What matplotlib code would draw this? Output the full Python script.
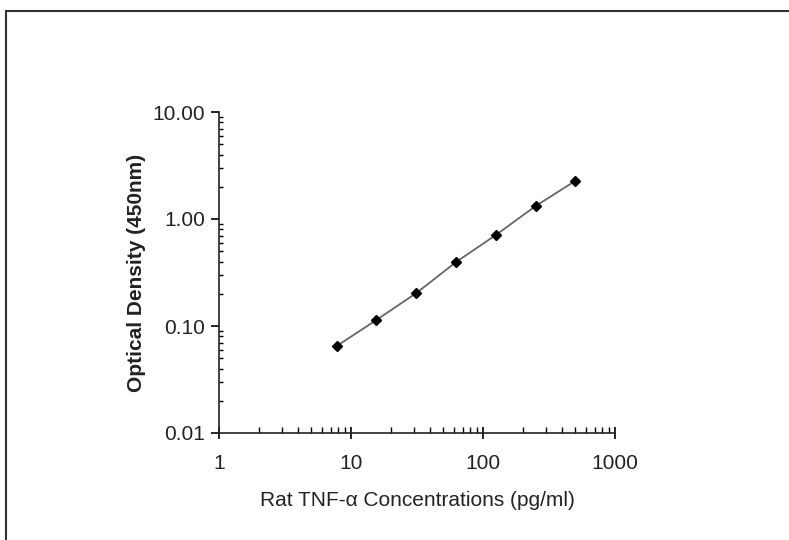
import numpy as np
import matplotlib
matplotlib.use('Agg')
import matplotlib.pyplot as plt
from matplotlib.patches import Rectangle
from matplotlib.ticker import FixedLocator, FixedFormatter, LogLocator, NullFormatter

plt.rcParams['font.family'] = ['Liberation Sans', 'DejaVu Sans']

# standard curve data
conc = [7.8, 15.6, 31.25, 62.5, 125, 250, 500]
od = [0.065, 0.114, 0.203, 0.396, 0.708, 1.32, 2.27]

x_ticks = [1, 10, 100, 1000]
x_labels = ['1', '10', '100', '1000']
y_ticks = [0.01, 0.1, 1, 10]
y_labels = ['0.01', '0.10', '1.00', '10.00']

fig = plt.figure(figsize=(7.89, 5.40), dpi=100)
ax = fig.add_axes([219/789, 1 - 433/540, (615 - 219)/789, (433 - 112)/540])

ax.plot(conc, od, color='#666666', lw=1.3, marker='D', markersize=5,
        markerfacecolor='black', markeredgecolor='black')

ax.set_xscale('log')
ax.set_yscale('log')
ax.set_xlim(1, 1000)
ax.set_ylim(0.01, 10)

ax.xaxis.set_major_locator(FixedLocator(x_ticks))
ax.xaxis.set_major_formatter(FixedFormatter(x_labels))
ax.yaxis.set_major_locator(FixedLocator(y_ticks))
ax.yaxis.set_major_formatter(FixedFormatter(y_labels))
ax.xaxis.set_minor_locator(LogLocator(base=10, subs=np.arange(2, 10)))
ax.yaxis.set_minor_locator(LogLocator(base=10, subs=np.arange(2, 10)))
ax.xaxis.set_minor_formatter(NullFormatter())
ax.yaxis.set_minor_formatter(NullFormatter())

for s in ['top', 'right']:
    ax.spines[s].set_visible(False)
for s in ['left', 'bottom']:
    ax.spines[s].set_linewidth(1.2)
    ax.spines[s].set_color('#222222')

ax.tick_params(axis='x', which='major', direction='inout', length=8, width=1.2,
               labelsize=15, pad=11, labelcolor='#222222')
ax.tick_params(axis='x', which='minor', direction='in', length=4, width=1)
ax.tick_params(axis='y', which='major', direction='out', length=6, width=1.2,
               labelsize=15, pad=4, labelcolor='#222222')
ax.tick_params(axis='y', which='minor', direction='in', length=3, width=1)

ax.set_xlabel('Rat TNF-α Concentrations (pg/ml)', fontsize=15, labelpad=13,
              color='#222222')
ax.set_ylabel('Optical Density (450nm)', fontsize=15, fontweight='bold', labelpad=5,
              color='#222222')

fig.patches.append(Rectangle((6/789, -0.05), 1.1, 1 - 11/540 + 0.05,
                             transform=fig.transFigure, fill=False,
                             edgecolor='#333333', lw=1.5, clip_on=False))

fig.savefig('out.png', dpi=100)
